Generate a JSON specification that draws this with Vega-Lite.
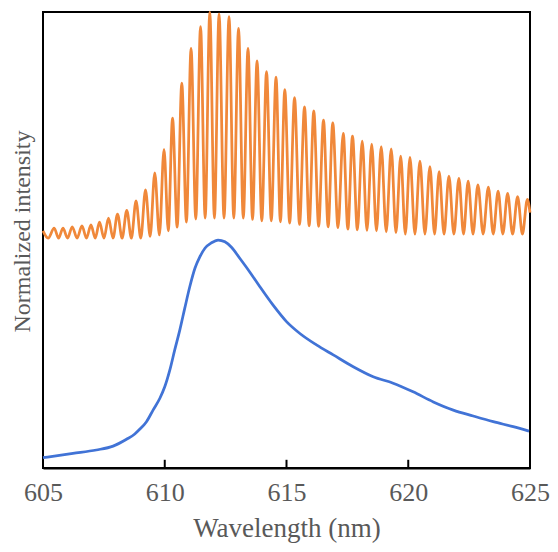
{
"$schema": "https://vega.github.io/schema/vega-lite/v6.json",
"width": 487, "height": 456,
"autosize": {"type": "none"},
"padding": {"left": 43, "top": 12, "right": 28, "bottom": 84},
"background": "white",
"config": {"view": {"stroke": "black", "strokeWidth": 2}, "font": "Liberation Serif"},
"datasets": {
"orange": [
{"x":605.00,"y":0.52},{"x":605.21,"y":0.504},{"x":605.46,"y":0.526},{"x":605.64,"y":0.504},{"x":605.82,"y":0.526},{"x":606.01,"y":0.504},{"x":606.20,"y":0.529},{"x":606.40,"y":0.504},{"x":606.60,"y":0.531},{"x":606.785,"y":0.504},{"x":606.97,"y":0.533},{"x":607.145,"y":0.504},{"x":607.32,"y":0.539},{"x":607.505,"y":0.504},{"x":607.69,"y":0.548},{"x":607.875,"y":0.504},{"x":608.06,"y":0.557},{"x":608.25,"y":0.504},{"x":608.44,"y":0.565},{"x":608.63,"y":0.504},{"x":608.82,"y":0.586},{"x":609.015,"y":0.504},{"x":609.21,"y":0.610},{"x":609.40,"y":0.508},{"x":609.59,"y":0.647},{"x":609.78,"y":0.511},{"x":609.97,"y":0.699},{"x":610.145,"y":0.520},{"x":610.32,"y":0.767},{"x":610.51,"y":0.528},{"x":610.70,"y":0.844},{"x":610.89,"y":0.539},{"x":611.08,"y":0.920},{"x":611.275,"y":0.546},{"x":611.47,"y":0.968},{"x":611.66,"y":0.548},{"x":611.85,"y":1.0},{"x":612.04,"y":0.548},{"x":612.23,"y":0.996},{"x":612.435,"y":0.548},{"x":612.64,"y":0.990},{"x":612.835,"y":0.548},{"x":613.03,"y":0.964},{"x":613.225,"y":0.548},{"x":613.42,"y":0.920},{"x":613.605,"y":0.545},{"x":613.79,"y":0.893},{"x":613.985,"y":0.542},{"x":614.18,"y":0.869},{"x":614.375,"y":0.542},{"x":614.57,"y":0.857},{"x":614.75,"y":0.540},{"x":614.93,"y":0.830},{"x":615.13,"y":0.537},{"x":615.33,"y":0.812},{"x":615.535,"y":0.534},{"x":615.74,"y":0.792},{"x":615.93,"y":0.531},{"x":616.12,"y":0.783},{"x":616.32,"y":0.530},{"x":616.52,"y":0.763},{"x":616.71,"y":0.529},{"x":616.90,"y":0.757},{"x":617.115,"y":0.527},{"x":617.33,"y":0.734},{"x":617.52,"y":0.524},{"x":617.71,"y":0.728},{"x":617.91,"y":0.522},{"x":618.11,"y":0.717},{"x":618.305,"y":0.521},{"x":618.50,"y":0.710},{"x":618.695,"y":0.520},{"x":618.89,"y":0.705},{"x":619.095,"y":0.518},{"x":619.30,"y":0.700},{"x":619.495,"y":0.516},{"x":619.69,"y":0.684},{"x":619.88,"y":0.513},{"x":620.07,"y":0.681},{"x":620.275,"y":0.513},{"x":620.48,"y":0.673},{"x":620.685,"y":0.513},{"x":620.89,"y":0.661},{"x":621.08,"y":0.513},{"x":621.27,"y":0.650},{"x":621.47,"y":0.513},{"x":621.67,"y":0.640},{"x":621.875,"y":0.513},{"x":622.08,"y":0.635},{"x":622.27,"y":0.513},{"x":622.46,"y":0.629},{"x":622.66,"y":0.513},{"x":622.86,"y":0.621},{"x":623.075,"y":0.513},{"x":623.29,"y":0.616},{"x":623.49,"y":0.513},{"x":623.69,"y":0.607},{"x":623.885,"y":0.513},{"x":624.08,"y":0.602},{"x":624.285,"y":0.513},{"x":624.49,"y":0.595},{"x":624.69,"y":0.513},{"x":624.89,"y":0.589},{"x":625.00,"y":0.56}
],
"blue": [
{"x":605.0,"y":0.0226},{"x":606.23,"y":0.032},{"x":607.19,"y":0.0395},{"x":607.88,"y":0.048},{"x":608.43,"y":0.063},{"x":608.77,"y":0.0746},{"x":608.97,"y":0.0848},{"x":609.25,"y":0.1016},{"x":609.52,"y":0.127},{"x":609.80,"y":0.153},{"x":610.0,"y":0.178},{"x":610.21,"y":0.215},{"x":610.41,"y":0.259},{"x":610.62,"y":0.303},{"x":610.82,"y":0.350},{"x":611.03,"y":0.398},{"x":611.24,"y":0.438},{"x":611.44,"y":0.463},{"x":611.65,"y":0.482},{"x":611.92,"y":0.494},{"x":612.19,"y":0.5},{"x":612.47,"y":0.496},{"x":612.74,"y":0.484},{"x":613.08,"y":0.46},{"x":613.49,"y":0.430},{"x":613.90,"y":0.398},{"x":614.45,"y":0.357},{"x":615.0,"y":0.321},{"x":615.55,"y":0.295},{"x":616.23,"y":0.270},{"x":616.92,"y":0.248},{"x":617.74,"y":0.222},{"x":618.56,"y":0.200},{"x":619.38,"y":0.186},{"x":620.20,"y":0.167},{"x":621.03,"y":0.145},{"x":621.85,"y":0.127},{"x":622.67,"y":0.114},{"x":623.49,"y":0.1016},{"x":624.31,"y":0.0906},{"x":624.96,"y":0.081}
],
"tickmarks": [{"x":610,"y":0,"y2":0.018},{"x":615,"y":0,"y2":0.018},{"x":620,"y":0,"y2":0.018}]
},
"encoding": {
"x": {"field": "x", "type": "quantitative", "scale": {"domain": [605, 625], "nice": false, "zero": false},
 "axis": {"values": [605,610,615,620,625], "title": "Wavelength (nm)", "grid": false, "ticks": false, "domainColor": "black", "domainWidth": 2, "labelFont": "Liberation Serif", "labelFontSize": 26, "labelColor": "#595959", "labelPadding": 11, "labelFlush": false, "titleFont": "Liberation Serif", "titleFontSize": 27, "titleFontWeight": "normal", "titleColor": "#595959", "titlePadding": 10}},
"y": {"field": "y", "type": "quantitative", "scale": {"domain": [0, 1], "nice": false, "zero": false},
 "axis": {"title": "Normalized intensity", "labels": false, "ticks": false, "grid": false, "domain": false, "titleFont": "Liberation Serif", "titleFontSize": 24, "titleFontWeight": "normal", "titleColor": "#595959", "titlePadding": 9, "titleY": 219}}
},
"layer": [
{"data": {"name": "blue"}, "mark": {"type": "line", "interpolate": "monotone", "strokeWidth": 2.75, "color": "#4173D6"}},
{"data": {"name": "orange"}, "mark": {"type": "line", "interpolate": "monotone", "strokeWidth": 2.75, "color": "#F0883A"}},
{"data": {"name": "tickmarks"}, "mark": {"type": "rule", "color": "#000000", "strokeWidth": 2}, "encoding": {"y2": {"field": "y2"}}}
]
}
